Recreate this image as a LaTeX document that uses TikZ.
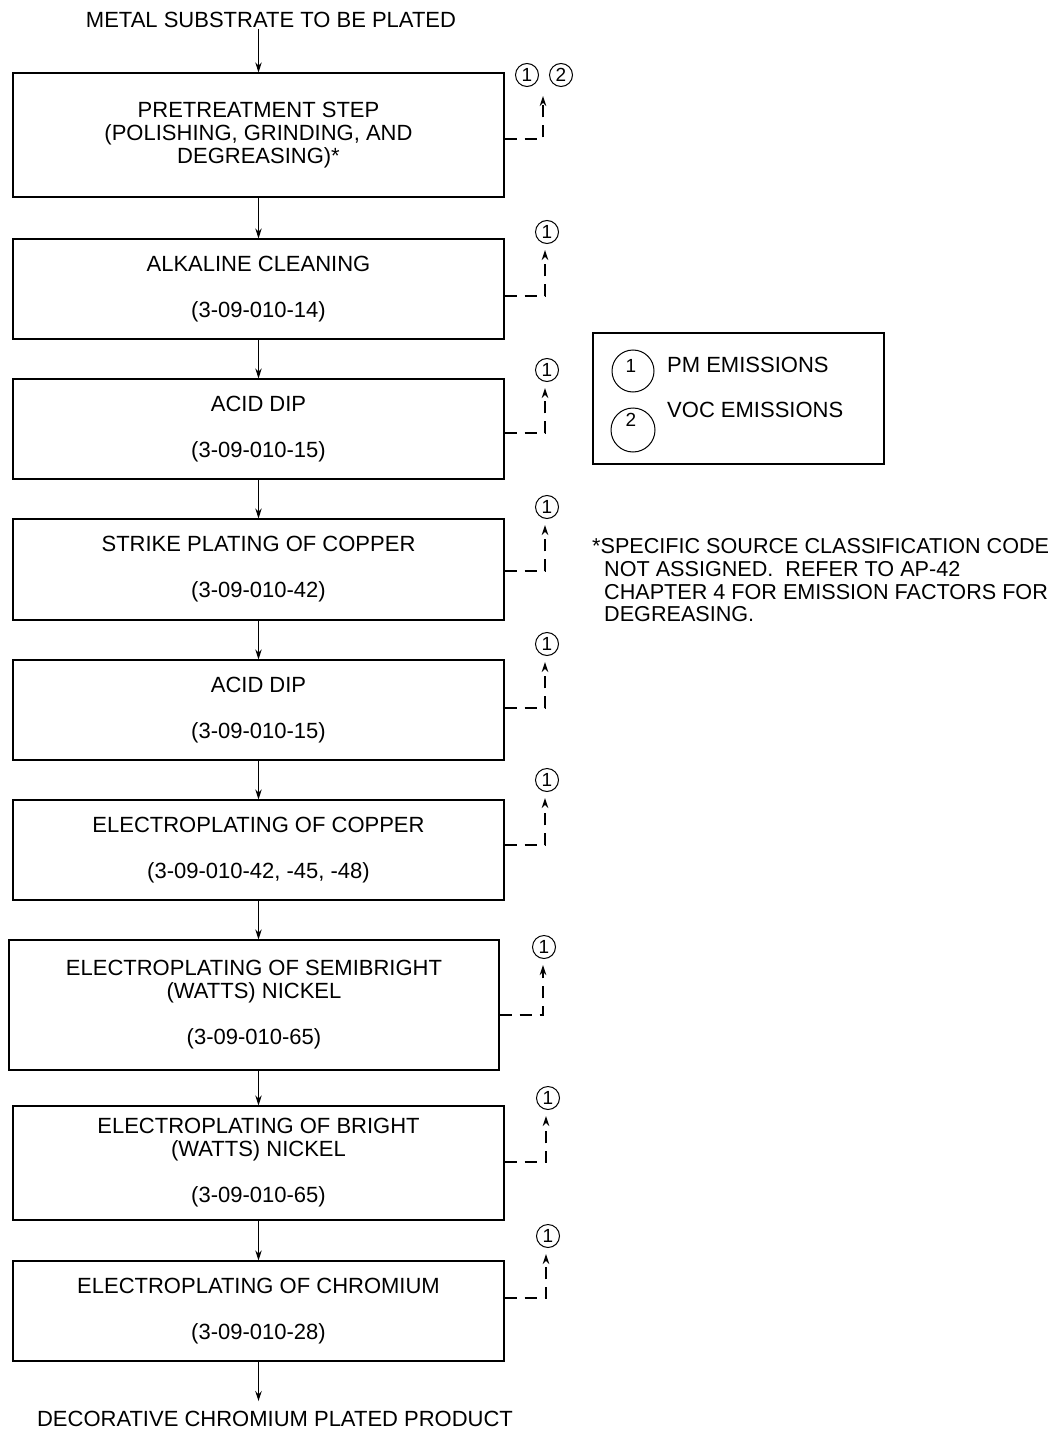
\documentclass[tikz,border=0pt]{standalone}
\usepackage{fontspec}
\setmainfont{Liberation Sans}
\usetikzlibrary{arrows.meta}
\newcommand{\bigtxt}{\fontsize{22}{23}\selectfont}
\newcommand{\notetxt}{\fontsize{21.6}{23}\selectfont}
\begin{document}
\begin{tikzpicture}[x=1pt,y=-1pt,
  box/.style={draw, line width=1.3pt, inner sep=0pt, minimum width=491pt, align=center, font=\bigtxt},
  txt/.style={inner sep=1pt, font=\bigtxt},
  note/.style={inner sep=0pt, anchor=base west, font=\notetxt},
  arr/.style={line width=1.1pt, -{Stealth[length=10pt,width=6.5pt]}},
  emis/.style={line width=1.1pt, dash pattern=on 12pt off 8pt, -{Stealth[length=10pt,width=6.5pt]}, shorten >=6pt},
  num/.style={circle, draw, line width=1pt, minimum size=23pt, inner sep=0pt, font=\fontsize{19}{19}\selectfont},
  lcirc/.style={circle, draw, line width=1pt, inner sep=0pt},
  lnum/.style={inner sep=0pt, font=\fontsize{19}{19}\selectfont}
]
\useasboundingbox[fill=white] (0,0) rectangle (1055,1431);

% top and bottom texts
\node[txt] (top) at (271,20) {METAL SUBSTRATE TO BE PLATED};
\node[txt] (bot) at (275,1419) {DECORATIVE CHROMIUM PLATED PRODUCT};

% boxes
\node[box, minimum height=124pt] (b1) at (258.5,135) {PRETREATMENT STEP\\(POLISHING, GRINDING, AND\\DEGREASING)*};
\node[box, minimum height=100pt] (b2) at (258.5,289) {ALKALINE CLEANING\\[23pt](3-09-010-14)};
\node[box, minimum height=100pt] (b3) at (258.5,429) {ACID DIP\\[23pt](3-09-010-15)};
\node[box, minimum height=101pt] (b4) at (258.5,569.5) {STRIKE PLATING OF COPPER\\[23pt](3-09-010-42)};
\node[box, minimum height=100pt] (b5) at (258.5,710) {ACID DIP\\[23pt](3-09-010-15)};
\node[box, minimum height=100pt] (b6) at (258.5,850) {ELECTROPLATING OF COPPER\\[23pt](3-09-010-42, -45, -48)};
\node[box, minimum height=130pt, minimum width=490pt] (b7) at (254,1005) {ELECTROPLATING OF SEMIBRIGHT\\(WATTS) NICKEL\\[23pt](3-09-010-65)};
\node[box, minimum height=114pt] (b8) at (258.5,1163) {ELECTROPLATING OF BRIGHT\\(WATTS) NICKEL\\[23pt](3-09-010-65)};
\node[box, minimum height=100pt] (b9) at (258.5,1311) {ELECTROPLATING OF CHROMIUM\\[23pt](3-09-010-28)};

% main flow arrows
\draw[arr] (top.south -| b1.north) -- (b1.north);
\draw[arr] (b1.south) -- (b1.south |- b2.north);
\draw[arr] (b2.south) -- (b2.south |- b3.north);
\draw[arr] (b3.south) -- (b3.south |- b4.north);
\draw[arr] (b4.south) -- (b4.south |- b5.north);
\draw[arr] (b5.south) -- (b5.south |- b6.north);
\draw[arr] (b6.south) -- (b6.south |- b7.north);
\draw[arr] (b8.north |- b7.south) -- (b8.north);
\draw[arr] (b8.south) -- (b8.south |- b9.north);
\draw[arr, shorten >=9pt] (b9.south) -- (b9.south |- bot.north);

% emission circles
\node[num] (c1a) at (527,75) {1};
\node[num] (c1b) at (561,75) {2};
\coordinate (c1) at (543,78);
\node[num] (c2) at (547,232) {1};
\node[num] (c3) at (547,370) {1};
\node[num] (c4) at (547,507) {1};
\node[num] (c5) at (547,644) {1};
\node[num] (c6) at (547,780) {1};
\node[num] (c7) at (544,947) {1};
\node[num] (c8) at (548,1098) {1};
\node[num] (c9) at (548,1236) {1};

% emission connectors
\coordinate (k1) at (543,139);
\coordinate (k2) at (545,296);
\coordinate (k3) at (545,433);
\coordinate (k4) at (545,571);
\coordinate (k5) at (545,708);
\coordinate (k6) at (545,845);
\coordinate (k7) at (543,1015);
\coordinate (k8) at (546,1162);
\coordinate (k9) at (546,1298);
\draw[emis, shorten >=18pt] (b1.east |- k1) -- (k1) -- (c1);
\foreach \i in {2,...,9}{
  \draw[emis] (b\i.east |- k\i) -- (k\i) -- (k\i |- c\i.south);
}

% legend
\node[draw, line width=1.3pt, minimum width=291pt, minimum height=131pt, inner sep=0pt] (leg) at (738.5,398.5) {};
\node[lcirc, minimum size=42pt] (l1) at (633,371) {};
\node[lcirc, minimum size=44pt] (l2) at (633,430) {};
\node[lnum] (l1n) at (631,366) {1};
\node[lnum] (l2n) at (631,420) {2};
\node[txt, anchor=west] (lt1) at (666,365) {PM EMISSIONS};
\node[txt, anchor=west] (lt2) at (666,410) {VOC EMISSIONS};

% note
\node[note] (n1) at (592,553.5) {*SPECIFIC SOURCE CLASSIFICATION CODE};
\node[note] (n2) at (604,576.5) {NOT ASSIGNED.\ \ REFER TO AP-42};
\node[note] (n3) at (604,599) {CHAPTER 4 FOR EMISSION FACTORS FOR};
\node[note] (n4) at (604,621.5) {DEGREASING.};
\end{tikzpicture}
\end{document}
